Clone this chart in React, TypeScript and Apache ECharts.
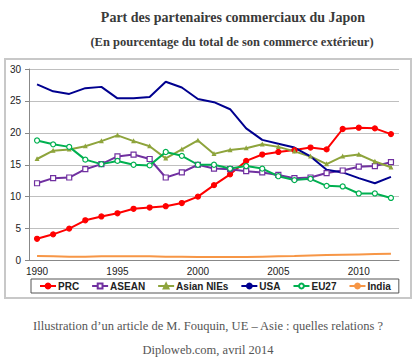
import React, { useEffect, useRef } from "react";
import * as echarts from "echarts";

const years = ["1990","1991","1992","1993","1994","1995","1996","1997","1998","1999","2000","2001","2002","2003","2004","2005","2006","2007","2008","2009","2010","2011","2012"];
const prc = [3.4,4.1,5.0,6.3,6.9,7.4,8.1,8.3,8.5,9.0,10.0,11.8,13.5,15.6,16.6,17.0,17.3,17.7,17.4,20.6,20.8,20.7,19.8];
const asean = [12.1,12.9,13.0,14.3,15.1,16.3,16.6,15.9,13.0,13.8,15.0,14.4,14.3,14.0,13.8,13.4,12.9,13.0,13.7,14.1,14.7,14.8,15.4];
const nies = [15.9,17.2,17.4,17.9,18.7,19.6,18.7,17.9,16.0,17.4,18.8,16.7,17.3,17.6,18.2,17.8,17.1,16.3,15.1,16.3,16.6,15.5,14.6];
const usa = [27.6,26.5,26.1,27.0,27.2,25.4,25.4,25.6,28.0,27.1,25.3,24.8,23.7,20.7,18.9,18.3,17.7,16.3,14.2,13.8,12.9,12.1,13.1];
const eu27 = [18.8,18.2,17.8,15.8,15.1,15.6,15.0,14.9,17.0,16.4,15.0,15.0,14.4,14.8,14.4,13.2,12.6,12.8,11.7,11.6,10.5,10.5,9.8];
const india = [0.7,0.65,0.6,0.6,0.65,0.65,0.65,0.65,0.6,0.6,0.55,0.55,0.55,0.55,0.6,0.65,0.7,0.8,0.85,0.9,0.95,1.0,1.05];

const titleLine1 = "Part des partenaires commerciaux du Japon";
const titleLine2 = "(En pourcentage du total de son commerce extérieur)";
const footer1 = "Illustration d\u2019un article de M. Fouquin, UE \u2013 Asie : quelles relations ?";
const footer2 = "Diploweb.com, avril 2014";

export default function App() {
  const ref = useRef<HTMLDivElement>(null);
  useEffect(() => {
    if (!ref.current) return;
    const chart = echarts.init(ref.current, null, { renderer: "svg" });
    const lineSeries = (name: string, data: number[], color: string, symbol: string, size: number, fill: string) => ({
      name,
      type: "line",
      data,
      symbol,
      symbolSize: size,
      showSymbol: symbol !== "none",
      lineStyle: { color, width: 2 },
      itemStyle: { color: fill, borderColor: color, borderWidth: 1.2 },
      z: 3,
    });
    chart.setOption({
      animation: false,
      backgroundColor: "#ffffff",
      title: [
        { text: titleLine1, left: 228, top: 5, textAlign: "center", textStyle: { fontFamily: "Liberation Serif", fontWeight: "bold", fontSize: 14, color: "#3a3a3a" } },
        { text: titleLine2, left: 227, top: 30, textAlign: "center", textStyle: { fontFamily: "Liberation Serif", fontWeight: "bold", fontSize: 12.5, color: "#3a3a3a" } },
      ],
      graphic: [
        { type: "rect", shape: { x: 5, y: 59, width: 406, height: 239 }, style: { fill: "none", stroke: "#c8c8c8", lineWidth: 2 }, z: -1 },
        { type: "text", x: 208, y: 326, style: { text: footer1, textAlign: "center", textVerticalAlign: "middle", font: "12.5px 'Liberation Serif'", fill: "#555555" } },
        { type: "text", x: 208, y: 350, style: { text: footer2, textAlign: "center", textVerticalAlign: "middle", font: "12.5px 'Liberation Serif'", fill: "#555555" } },
      ],
      legend: {
        left: 31,
        top: 279,
        padding: [2, 8, 2, 8],
        itemGap: 12,
        itemWidth: 16,
        itemHeight: 6,
        borderColor: "#555555",
        borderWidth: 1,
        textStyle: { fontFamily: "Arial, Liberation Sans", fontWeight: "bold", fontSize: 10, color: "#222", padding: [0, 0, 0, -3] },
        data: ["PRC", "ASEAN", "Asian NIEs", "USA", "EU27", "India"],
      },
      grid: { left: 29, right: 21, top: 69, bottom: 102.5 },
      xAxis: {
        type: "category",
        data: years,
        boundaryGap: true,
        axisLine: { lineStyle: { color: "#888888" } },
        axisTick: { interval: 0, length: 4, lineStyle: { color: "#888888" } },
        axisLabel: { interval: 4, fontFamily: "Arial, Liberation Sans", fontSize: 10, color: "#222", margin: 6 },
      },
      yAxis: {
        type: "value",
        min: 0,
        max: 30,
        interval: 5,
        axisLine: { show: true, lineStyle: { color: "#888888" } },
        axisTick: { show: true, length: 4, lineStyle: { color: "#888888" } },
        axisLabel: { fontFamily: "Arial, Liberation Sans", fontSize: 10, color: "#222", margin: 8 },
        splitLine: { lineStyle: { color: "#bfbfbf", width: 1 } },
      },
      series: [
        lineSeries("PRC", prc, "#ff0000", "circle", 5, "#ff0000"),
        lineSeries("ASEAN", asean, "#7030a0", "rect", 5, "#ffffff"),
        lineSeries("Asian NIEs", nies, "#8ea43c", "triangle", 3, "#8ea43c"),
        lineSeries("USA", usa, "#00008f", "none", 0, "#00008f"),
        lineSeries("EU27", eu27, "#00b050", "circle", 5, "#ffffff"),
        lineSeries("India", india, "#f79646", "none", 0, "#f79646"),
      ],
    });
    return () => chart.dispose();
  }, []);
  return <div ref={ref} style={{ position: "absolute", left: 0, top: 0, width: 420, height: 363 }} />;
}
